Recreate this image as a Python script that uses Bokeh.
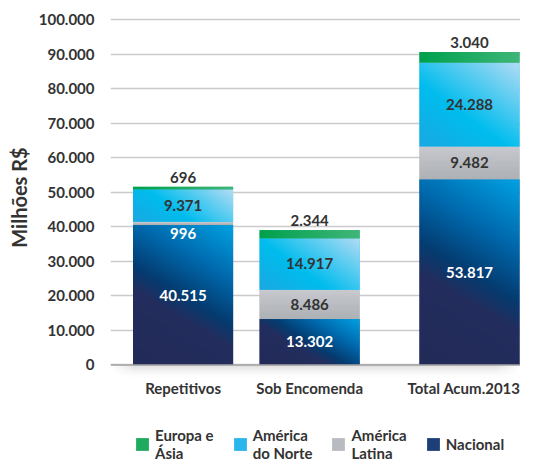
import numpy as np
from bokeh.plotting import figure
from bokeh.models import Range1d, FixedTicker, Span, Legend, LegendItem, Title
from bokeh.layouts import column
from bokeh.embed import file_html
from bokeh.resources import INLINE
from bokeh.core.properties import value

# ---------------- data ----------------
categories = ["Repetitivos", "Sob Encomenda", "Total Acum.2013"]
nacional = [40515, 13302, 53817]
america_latina = [996, 8486, 9482]
america_norte = [9371, 14917, 24288]
europa_asia = [696, 2344, 3040]
series_labels = ["Nacional", "América\nLatina", "América\ndo Norte", "Europa e\nÁsia"]
y_ticks = [0, 10000, 20000, 30000, 40000, 50000, 60000, 70000, 80000, 90000, 100000]
y_tick_labels = ["0", "10.000", "20.000", "30.000", "40.000", "50.000",
                 "60.000", "70.000", "80.000", "90.000", "100.000"]
y_title = "Milhões R$"

# ---------------- layout / style ----------------
FONT = "Lato"
DARK = "#333333"
BAR_X = [74, 203, 366]
BAR_W = 102
X_END = 418
Y_START, Y_END = -4500, 101500
FRAME_H = 366
PX_PER_Y = FRAME_H / (Y_END - Y_START)
GAP_ABOVE = 4 / PX_PER_Y
GAP_BELOW = 3 / PX_PER_Y

STOPS = [
    ([(0.0, "#232a58"), (0.38, "#222e5e"), (0.50, "#043d72"), (0.72, "#006aae"), (1.0, "#00a3e4")], 60),
    ([(0.0, "#aeb1b6"), (1.0, "#c8cacf")], 90),
    ([(0.0, "#1aa9e2"), (0.40, "#00bdee"), (1.0, "#b3dcf4")], 55),
    ([(0.0, "#00a14d"), (1.0, "#40b679")], 10),
]
SOLID = ["#1d3f78", "#b8bbc0", "#29b6ea", "#1fab5f"]


def hex2rgb(h):
    return [int(h[i:i + 2], 16) for i in (1, 3, 5)]


def pack(r, g, b, a):
    img = np.empty(r.shape, dtype=np.uint32)
    v = img.view(dtype=np.uint8).reshape(r.shape + (4,))
    v[..., 0] = np.clip(r, 0, 255).astype(np.uint8)
    v[..., 1] = np.clip(g, 0, 255).astype(np.uint8)
    v[..., 2] = np.clip(b, 0, 255).astype(np.uint8)
    v[..., 3] = np.clip(a, 0, 255).astype(np.uint8)
    return img


def gradient(w_px, h_px, stops, angle):
    W = max(2, int(round(w_px)))
    H = max(2, int(round(h_px)))
    X, Y = np.meshgrid(np.arange(W) + 0.5, np.arange(H) + 0.5)
    a = np.radians(angle)
    proj = X * np.cos(a) + Y * np.sin(a)
    t = (proj - proj.min()) / max(proj.max() - proj.min(), 1e-9)
    pos = [s[0] for s in stops]
    cols = np.array([hex2rgb(s[1]) for s in stops], dtype=float)
    r = np.interp(t, pos, cols[:, 0])
    g = np.interp(t, pos, cols[:, 1])
    b = np.interp(t, pos, cols[:, 2])
    return pack(r, g, b, np.full(t.shape, 255.0))


p = figure(width=520, height=410, x_range=Range1d(0, X_END), y_range=Range1d(Y_START, Y_END),
           toolbar_location=None, output_backend="svg",
           min_border_left=102, min_border_right=0, min_border_top=14, min_border_bottom=30)
p.outline_line_color = None
p.background_fill_color = "white"

# axes
p.yaxis.ticker = FixedTicker(ticks=y_ticks)
p.yaxis.major_label_overrides = {t: l for t, l in zip(y_ticks, y_tick_labels)}
p.xaxis.ticker = FixedTicker(ticks=BAR_X)
p.xaxis.major_label_overrides = {x: c for x, c in zip(BAR_X, categories)}
for ax in (p.xaxis, p.yaxis):
    ax.axis_line_color = None
    ax.major_tick_line_color = None
    ax.minor_tick_line_color = None
    ax.major_label_text_font = FONT
    ax.major_label_text_font_style = "bold"
    ax.major_label_text_font_size = "15px"
    ax.major_label_text_color = DARK
p.yaxis.major_label_standoff = 10
p.xaxis.major_label_standoff = -8

p.xgrid.visible = False
p.ygrid.ticker = FixedTicker(ticks=y_ticks)
p.ygrid.grid_line_color = "#cbcbcb"
p.ygrid.grid_line_width = 1.6

p.add_layout(Title(text=y_title, align="center", offset=-14, standoff=9,
                   text_font=FONT, text_font_style="bold", text_font_size="20px",
                   text_color=DARK), "left")

# shadow under baseline
SH_W, SH_H = X_END, 16
Xs, Ys = np.meshgrid(np.arange(SH_W) + 0.5, np.arange(SH_H) + 0.5)
alpha = 255 * 0.30 * (Ys / SH_H) ** 2 * np.clip(np.minimum(Xs, SH_W - Xs) / 25.0, 0, 1)
shadow = pack(np.full(Xs.shape, 120.0), np.full(Xs.shape, 120.0), np.full(Xs.shape, 120.0), alpha)
p.image_rgba(image=[shadow], x=0, y=Y_START, dw=X_END, dh=-Y_START)
p.add_layout(Span(location=0, dimension="width", line_color="#a3a3a3", line_width=1.5))

# stacked bars
stack = [nacional, america_latina, america_norte, europa_asia]
lefts = [x - BAR_W / 2 for x in BAR_X]
bottoms = np.zeros(len(categories))
lab = {"middle": ([], [], [], []), "bottom": ([], [], [], []), "top": ([], [], [], [])}


def fmt(v):
    return f"{v:,}".replace(",", ".")


for si, vals in enumerate(stack):
    vals = np.array(vals, dtype=float)
    tops = bottoms + vals
    p.vbar(x=BAR_X, bottom=bottoms.tolist(), top=tops.tolist(), width=BAR_W,
           fill_color=SOLID[si], line_color=None)
    stops, ang = STOPS[si]
    imgs = [gradient(BAR_W, v * PX_PER_Y, stops, ang) for v in vals]
    p.image_rgba(image=imgs, x=lefts, y=bottoms.tolist(), dw=[BAR_W] * len(vals), dh=vals.tolist())
    for j, v in enumerate(vals):
        if v * PX_PER_Y >= 18:
            key, y, col = "middle", (bottoms[j] + tops[j]) / 2, ("white" if si == 0 else DARK)
        elif si == len(stack) - 1:
            key, y, col = "bottom", tops[j] + GAP_ABOVE, DARK
        else:
            key, y, col = "top", bottoms[j] - GAP_BELOW, ("white" if si == 1 else DARK)
        lab[key][0].append(BAR_X[j])
        lab[key][1].append(y)
        lab[key][2].append(fmt(int(v)))
        lab[key][3].append(col)
    bottoms = tops

for key, (xs, ys, ts, cs) in lab.items():
    if xs:
        p.text(x=xs, y=ys, text=ts, text_color=cs, text_align="center", text_baseline=key,
               text_font=value(FONT), text_font_style="bold", text_font_size="15px")

# legend figure
lg = figure(width=520, height=52, x_range=Range1d(0, 1), y_range=Range1d(0, 1),
            x_axis_type=None, y_axis_type=None, toolbar_location=None,
            output_backend="svg", min_border=0)
lg.outline_line_color = None
lg.grid.visible = False
items = []
for si in reversed(range(len(stack))):
    r = lg.vbar(x=[5], top=[5], width=0.1, fill_color=SOLID[si], line_color=None)
    items.append(LegendItem(label=series_labels[si], renderers=[r]))
legend = Legend(items=items, orientation="horizontal", location=(24, 0),
                label_text_font=FONT, label_text_font_style="bold", label_text_font_size="15px",
                label_text_color=DARK, glyph_width=16, glyph_height=16, label_standoff=5,
                spacing=18, padding=0, margin=0, border_line_color=None,
                background_fill_alpha=0)
lg.add_layout(legend, "center")

layout = column(p, lg)
with open("out.html", "w", encoding="utf-8") as f:
    f.write(file_html(layout, INLINE))
